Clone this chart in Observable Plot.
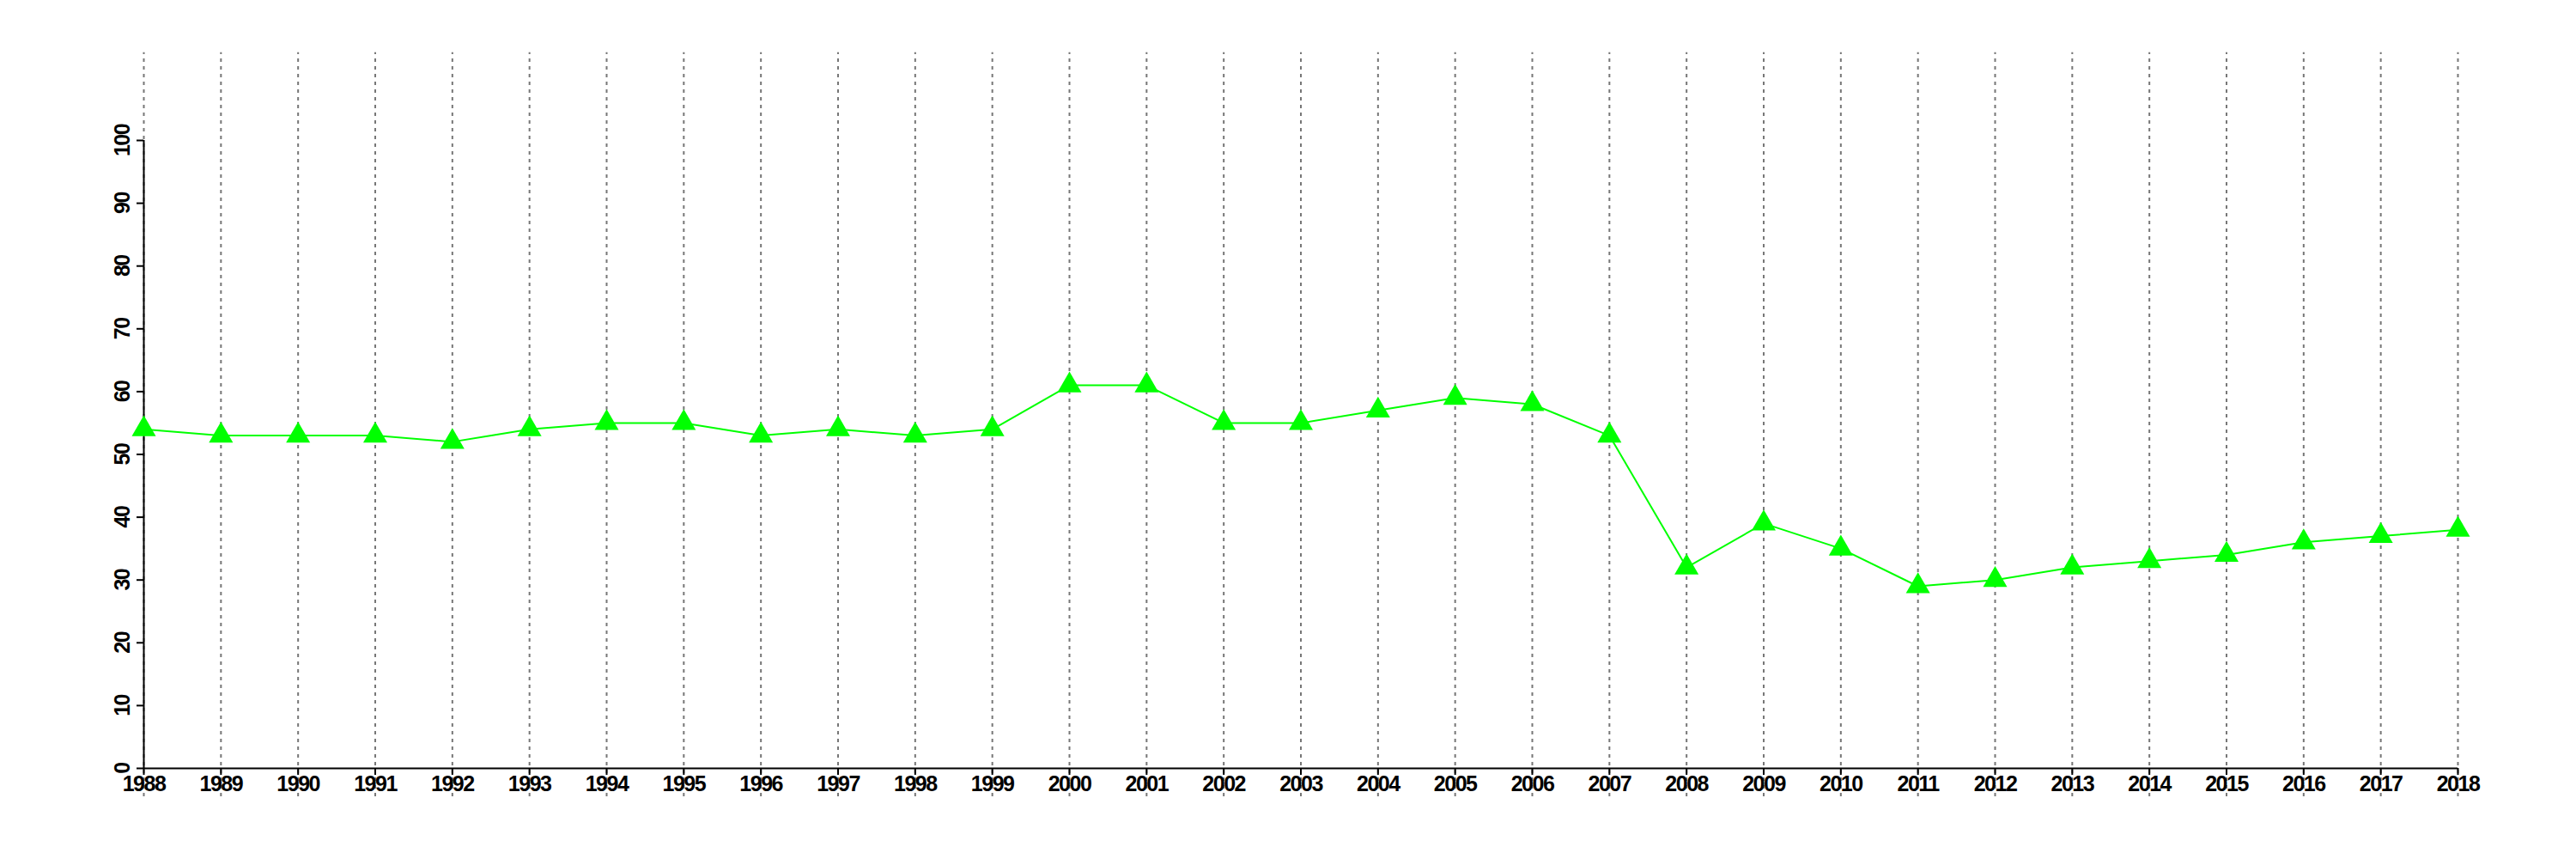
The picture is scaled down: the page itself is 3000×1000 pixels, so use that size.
<!DOCTYPE html>
<html><head><meta charset="utf-8">
<script src="https://cdn.jsdelivr.net/npm/d3@7"></script>
<script src="https://cdn.jsdelivr.net/npm/@observablehq/plot@0.6"></script>
<style>
body{margin:0;background:#fff}
svg{display:block}
svg text{letter-spacing:-1.5px}
</style>
</head><body><div id="chart"></div>
<script>
const years = [1988,1989,1990,1991,1992,1993,1994,1995,1996,1997,1998,1999,2000,2001,2002,2003,2004,2005,2006,2007,2008,2009,2010,2011,2012,2013,2014,2015,2016,2017,2018];
const values = [54,53,53,53,52,54,55,55,53,54,53,54,61,61,55,55,57,59,58,53,32,39,35,29,30,32,33,34,36,37,38];
const yTicks = [0,10,20,30,40,50,60,70,80,90,100];
const gridTop = 114;
const gridBottom = -4.5;

const data = years.map((year, i) => ({year, value: values[i]}));
const font = "'Liberation Sans', Arial, Helvetica, sans-serif";

const chart = Plot.plot({
  width: 3000,
  height: 1000,
  marginLeft: 167,
  marginRight: 138,
  marginTop: 163,
  marginBottom: 106,
  x: {domain: [1988, 2018]},
  y: {domain: [0, 100]},
  style: {background: "#fff", fontFamily: font, color: "#000"},
  marks: [
    Plot.ruleX(years, {x: d => d, y1: gridBottom, y2: gridTop, stroke: "#777", strokeWidth: 2, strokeDasharray: "4,5"}),
    Plot.ruleY([0], {stroke: "#000", strokeWidth: 2}),
    Plot.ruleX([1988], {stroke: "#000", strokeWidth: 2}),
    Plot.axisY({ticks: yTicks, tickSize: 8, tickFormat: () => "", strokeWidth: 2, label: null}),
    Plot.axisX({ticks: years, tickSize: 8, tickFormat: () => "", strokeWidth: 2, label: null}),
    Plot.text(years, {x: d => d, y: 0, text: d => String(d), dy: 9, lineAnchor: "top", textAnchor: "middle", fontSize: 25, fontWeight: "bold", fill: "#000"}),
    Plot.text(yTicks, {y: d => d, frameAnchor: "left", text: d => String(d), rotate: -90, dx: -25, textAnchor: "middle", lineAnchor: "middle", fontSize: 25, fontWeight: "bold", fill: "#000"}),
    Plot.line(data, {x: "year", y: "value", stroke: "#00ff00", strokeWidth: 2}),
    Plot.dot(data, {x: "year", y: "value", symbol: "triangle", r: 10.4, fill: "#00ff00", stroke: "none"})
  ]
});
document.getElementById("chart").appendChild(chart);
</script>
</body></html>
